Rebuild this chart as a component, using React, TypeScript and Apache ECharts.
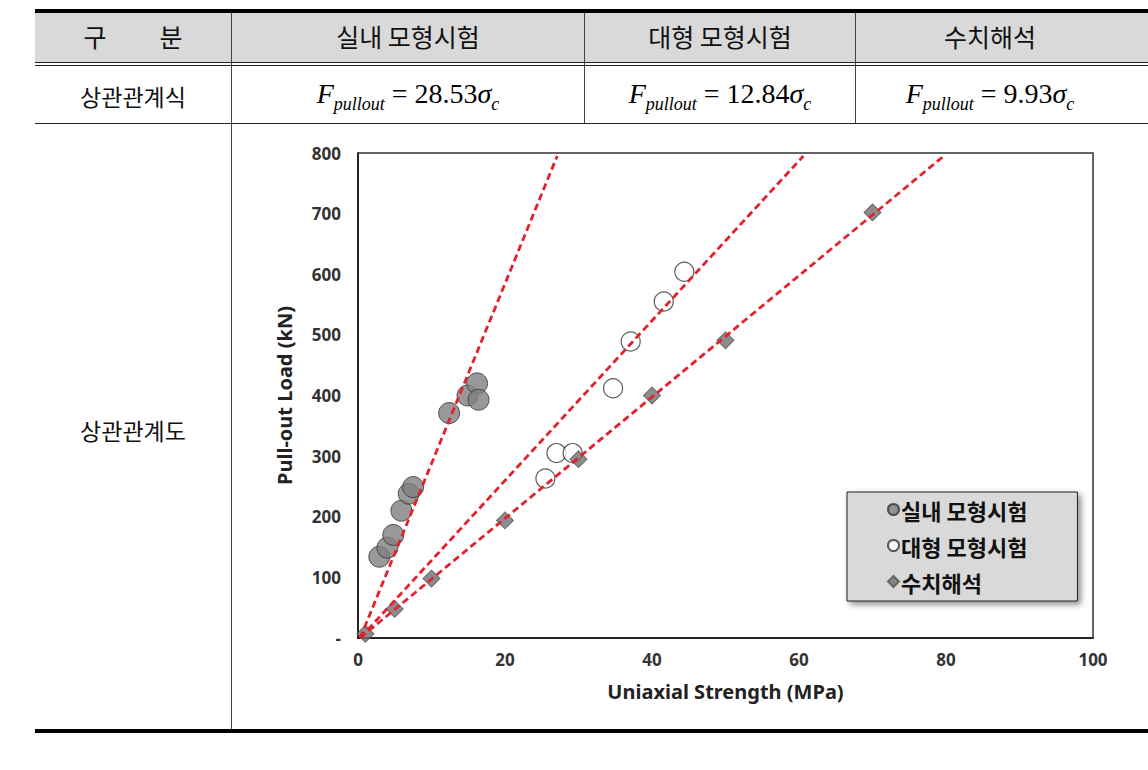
import React, { useEffect, useRef } from "react";
import * as echarts from "echarts";

const headers = ["구   분", "실내 모형시험", "대형 모형시험", "수치해석"];
const rowLabels = ["상관관계식", "상관관계도"];
const slopes = ["28.53", "12.84", "9.93"];
const seriesNames = ["실내 모형시험", "대형 모형시험", "수치해석"];

const labTest: number[][] = [
  [2.9, 134], [4.0, 149], [4.8, 170], [5.9, 210], [6.9, 238], [7.5, 249],
  [12.4, 371], [14.9, 400], [16.2, 420], [16.4, 393],
];
const largeTest: number[][] = [
  [44.4, 604], [41.6, 555], [37.1, 489], [34.7, 412], [27.0, 305], [29.2, 305], [25.5, 263],
];
const numerical: number[][] = [
  [1, 7], [5, 48], [10, 98], [20, 194], [30, 295], [40, 400], [50, 491], [70, 702],
];
const fitLab: number[][] = [[0.3, 0], [27.1, 795]];
const fitLarge: number[][] = [[0.3, 0], [60.6, 795]];
const fitNum: number[][] = [[0.3, 0], [79.7, 795]];

const xTicks = { min: 0, max: 100, interval: 20 };
const yTicks = { min: 0, max: 800, interval: 100 };

const cjk = "'Noto Sans CJK KR', 'Noto Sans', sans-serif";
const latin = "'Noto Sans', 'Open Sans', sans-serif";

function Formula({ k }: { k: string }) {
  return (
    <span style={{ fontFamily: "'Liberation Serif', 'DejaVu Serif', serif", fontSize: 28, whiteSpace: "nowrap" }}>
      <i>F</i>
      <sub style={{ fontSize: 18, verticalAlign: "-7px" }}><i>pullout</i></sub>
      <span> = {k}</span>
      <i>σ</i>
      <sub style={{ fontSize: 18, verticalAlign: "-7px" }}><i>c</i></sub>
    </span>
  );
}

const abs = (s: React.CSSProperties): React.CSSProperties => ({ position: "absolute", ...s });

export default function App() {
  const ref = useRef<HTMLDivElement>(null);
  useEffect(() => {
    if (!ref.current) return;
    const chart = echarts.init(ref.current, undefined, { renderer: "svg" });
    const lineStyle = { color: "#e3202c", width: 2.8, type: [7, 4] as any };
    chart.setOption({
      animation: false,
      grid: { left: 358, top: 153, width: 735, height: 485, show: true, borderColor: "#333", borderWidth: 1.5 },
      xAxis: {
        type: "value", ...xTicks,
        axisLine: { show: true, lineStyle: { color: "#111", width: 1.5 } },
        axisTick: { show: false }, splitLine: { show: false },
        axisLabel: { fontSize: 17, fontWeight: "bold", color: "#333", fontFamily: latin, margin: 13 },
        name: "Uniaxial Strength (MPa)", nameLocation: "middle", nameGap: 43,
        nameTextStyle: { fontSize: 20, fontWeight: "bold", color: "#222", fontFamily: latin },
      },
      yAxis: {
        type: "value", ...yTicks,
        axisLine: { show: true, lineStyle: { color: "#111", width: 1.5 } },
        axisTick: { show: false }, splitLine: { show: false },
        axisLabel: { fontSize: 17, fontWeight: "bold", color: "#333", fontFamily: latin, margin: 17, formatter: (v: number) => (v === 0 ? "-" : String(v)) },
        name: "Pull-out Load (kN)", nameLocation: "middle", nameGap: 64,
        nameTextStyle: { fontSize: 20, fontWeight: "bold", color: "#222", fontFamily: latin },
      },
      legend: {
        orient: "vertical", left: 847, top: 492,
        padding: [5, 50, 7, 40], itemGap: 11, itemWidth: 11, itemHeight: 11,
        backgroundColor: "#d9d9d9", borderColor: "#222", borderWidth: 1,
        shadowBlur: 6, shadowOffsetX: 3, shadowOffsetY: 3, shadowColor: "rgba(0,0,0,0.45)",
        textStyle: { fontSize: 22, fontWeight: "bold", color: "#111", fontFamily: cjk, lineHeight: 25, padding: [0, 0, 0, -3] },
        data: [
          { name: seriesNames[0], icon: "circle" },
          { name: seriesNames[1], icon: "circle" },
          { name: seriesNames[2], icon: "diamond" },
        ],
      },
      series: [
        { name: seriesNames[0], type: "scatter", data: labTest, symbol: "circle", symbolSize: 21, itemStyle: { color: "#7f7f7f", borderColor: "#333", borderWidth: 1 }, z: 2 },
        { name: seriesNames[1], type: "scatter", data: largeTest, symbol: "circle", symbolSize: 19, itemStyle: { color: "#ffffff", borderColor: "#333", borderWidth: 1.2 }, z: 2 },
        { name: seriesNames[2], type: "scatter", data: numerical, symbol: "rect", symbolRotate: 45, symbolSize: 12, itemStyle: { color: "#6f6f6f", borderColor: "#555", borderWidth: 1 }, z: 2 },
        { type: "line", data: fitLab, symbol: "none", lineStyle, z: 5, silent: true, clip: false },
        { type: "line", data: fitLarge, symbol: "none", lineStyle, z: 5, silent: true, clip: false },
        { type: "line", data: fitNum, symbol: "none", lineStyle, z: 5, silent: true, clip: false },
      ],
    });
    return () => chart.dispose();
  }, []);

  const colCenters = [133, 408, 720, 990];
  const headerText: React.CSSProperties = { fontFamily: cjk, fontSize: 25, color: "#111", transform: "translateX(-50%)", whiteSpace: "pre" };

  return (
    <div style={abs({ left: 0, top: 0, width: 1148, height: 770, background: "#fff", overflow: "hidden" })}>
      <div style={abs({ left: 35, top: 12, width: 1113, height: 50, background: "#d9d9d9" })} />
      <div style={abs({ left: 35, top: 9, width: 1113, height: 4, background: "#000" })} />
      <div style={abs({ left: 35, top: 62, width: 1113, height: 1, background: "#222" })} />
      <div style={abs({ left: 35, top: 65, width: 1113, height: 1, background: "#222" })} />
      <div style={abs({ left: 35, top: 123, width: 1113, height: 1, background: "#222" })} />
      <div style={abs({ left: 35, top: 729, width: 1113, height: 4, background: "#000" })} />
      <div style={abs({ left: 231, top: 13, width: 1, height: 716, background: "#444" })} />
      <div style={abs({ left: 584, top: 13, width: 1, height: 110, background: "#444" })} />
      <div style={abs({ left: 855, top: 13, width: 1, height: 110, background: "#444" })} />

      {headers.map((h, i) => (
        <div key={h} style={abs({ left: colCenters[i], top: 18, ...headerText, wordSpacing: i === 0 ? 12 : 0 })}>{h}</div>
      ))}
      <div style={abs({ left: colCenters[0], top: 79, ...headerText, fontSize: 23 })}>{rowLabels[0]}</div>
      <div style={abs({ left: colCenters[0], top: 413, ...headerText, fontSize: 23 })}>{rowLabels[1]}</div>
      {slopes.map((k, i) => (
        <div key={k} style={abs({ left: colCenters[i + 1], top: 78, transform: "translateX(-50%)" })}>
          <Formula k={k} />
        </div>
      ))}

      <div ref={ref} style={abs({ left: 0, top: 0, width: 1148, height: 770 })} />
    </div>
  );
}
